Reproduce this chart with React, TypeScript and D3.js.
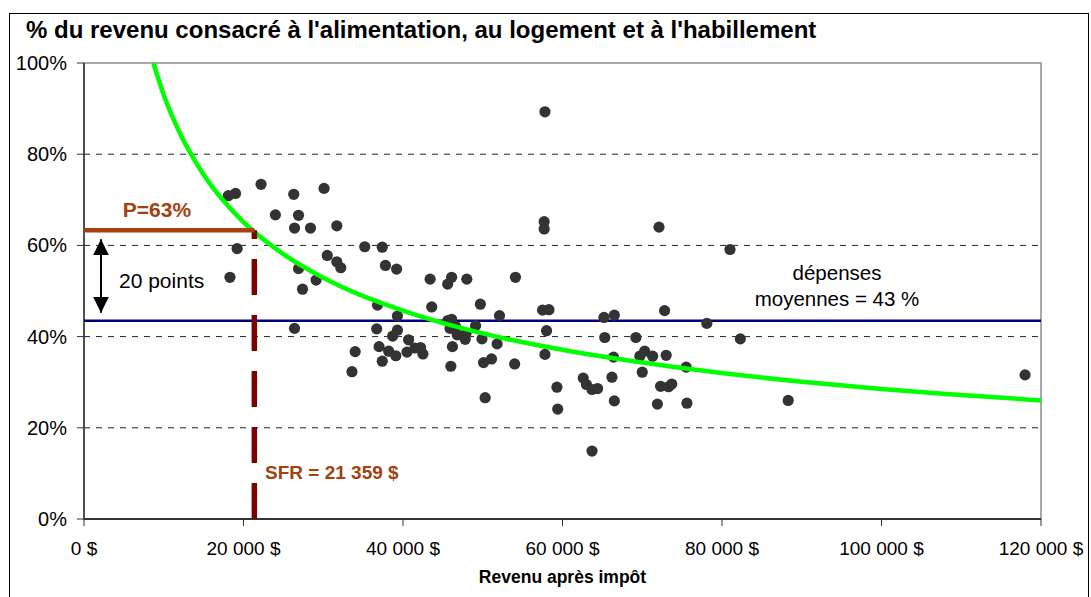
import React from "react";
import * as d3 from "d3";

// Données (revenu après impôt en $, part en %)
const revenus = [
  18100, 19000, 22200, 26300, 30100, 24000, 26900, 26400, 28400, 31700,
  19200, 18300, 35200, 37400, 30500, 31700, 32200, 26900, 37800, 39200,
  29100, 27400, 43400, 45600, 46100, 48000, 54100, 36800, 43600, 49700,
  39300, 52100, 57700, 57700, 57800, 57500, 58300, 58000, 57800, 59300,
  59400, 36700, 39300, 38700, 37000, 38200, 39100, 40700, 40500, 42200,
  41500, 42500, 34000, 33600, 37400, 45600, 46100, 45900, 46600, 46800,
  47900, 47800, 49100, 49900, 51800, 46200, 46000, 50100, 51100, 54000,
  50300, 65200, 66500, 72800, 78100, 65300, 69200, 82300, 66400, 69700,
  70300, 71300, 73000, 70000, 75500, 66200, 62600, 63000, 63700, 64400,
  66500, 72300, 73300, 73700, 71900, 75600, 88300, 63700, 72100, 81000,
  118000, 26400,
];
const parts = [
  70.9, 71.4, 73.4, 71.2, 72.5, 66.7, 66.6, 63.8, 63.8, 64.3,
  59.3, 53.0, 59.7, 59.6, 57.8, 56.4, 55.1, 54.9, 55.6, 54.8,
  52.4, 50.4, 52.6, 51.5, 53.0, 52.6, 53.0, 46.9, 46.5, 47.1,
  44.5, 44.6, 65.2, 63.6, 89.3, 45.8, 45.9, 41.3, 36.1, 28.9,
  24.1, 41.7, 41.4, 40.1, 37.8, 36.8, 35.8, 39.3, 36.6, 37.6,
  37.5, 36.2, 36.7, 32.3, 34.6, 43.5, 43.8, 41.8, 42.2, 40.4,
  40.7, 39.4, 42.4, 39.5, 38.4, 37.8, 33.5, 34.3, 35.1, 34.0,
  26.6, 44.2, 44.7, 45.7, 42.9, 39.8, 39.8, 39.5, 35.5, 35.7,
  36.8, 35.7, 35.9, 32.2, 33.3, 31.1, 30.9, 29.5, 28.4, 28.6,
  25.9, 29.1, 29.0, 29.6, 25.2, 25.4, 26.0, 14.9, 64.0, 59.1,
  31.6, 41.8,
];

// courbe de tendance (points lus)
const courbeRevenus = [8700, 10000, 12000, 15000, 20000, 25000, 30000, 40000, 50000, 60000, 70000, 80000, 90000, 100000, 110000, 120000];
const courbeParts = [100, 93, 84.7, 75.5, 65.1, 58.1, 52.9, 45.7, 40.7, 37.1, 34.3, 32.0, 30.1, 28.5, 27.2, 26.0];

const xTicks = [0, 20000, 40000, 60000, 80000, 100000, 120000];
const yTicks = [0, 20, 40, 60, 80, 100];
const yGrid = [20, 40, 60, 80];

const moyenne = 43.5;
const seuil = 63.3;
const sfr = 21359;

const titre = "% du revenu consacré à l'alimentation, au logement et à l'habillement";

const W = 1091;
const H = 597;
const margin = { left: 84, right: 50, top: 63, bottom: 78 };
const font = "'Liberation Sans', Arial, sans-serif";

const fmtMoney = (v: number) => (v === 0 ? "0 $" : `${d3.format(",")(v).replace(/,/g, " ")} $`);

export default function App() {
  const x = d3.scaleLinear().domain([0, 120000]).range([margin.left, W - margin.right]);
  const y = d3.scaleLinear().domain([0, 100]).range([H - margin.bottom, margin.top]);

  const line = d3
    .line<number>()
    .x((_, i) => x(courbeRevenus[i]))
    .y((d) => y(d))
    .curve(d3.curveMonotoneX);

  const x0 = x.range()[0];
  const x1 = x.range()[1];
  const yb = y(0);
  const yt = y(100);

  return (
    <svg width={W} height={H} style={{ position: "absolute", left: 0, top: 0 }} fontFamily={font}>
      <defs>
        <marker id="fl" viewBox="0 0 10 10" refX="10" refY="5" markerWidth="16" markerHeight="16" markerUnits="userSpaceOnUse" orient="auto-start-reverse">
          <path d="M0,0 L10,5 L0,10 z" fill="#000" />
        </marker>
      </defs>
      <rect x={0} y={0} width={W} height={H} fill="#fff" />
      <rect x={9.5} y={13.5} width={1079} height={600} fill="none" stroke="#000" />

      <text x={26} y={38} fontSize={24} fontWeight="bold">{titre}</text>

      {/* cadre de la zone de tracé */}
      <rect x={x0} y={yt} width={x1 - x0} height={yb - yt} fill="none" stroke="#8c8c8c" strokeWidth={1.5} />

      {yGrid.map((t) => (
        <line key={t} x1={x0} x2={x1} y1={y(t)} y2={y(t)} stroke="#222" strokeDasharray="6,6" strokeWidth={1} />
      ))}

      {/* axes */}
      <line x1={x0} x2={x0} y1={yt} y2={yb} stroke="#333" strokeWidth={1.5} />
      <line x1={x0} x2={x1} y1={yb} y2={yb} stroke="#333" strokeWidth={2} />
      {yTicks.map((t) => (
        <g key={t}>
          <line x1={x0 - 7} x2={x0} y1={y(t)} y2={y(t)} stroke="#333" />
          <text x={67} y={y(t)} dy="0.35em" textAnchor="end" fontSize={20}>{t}%</text>
        </g>
      ))}
      {xTicks.map((t) => (
        <g key={t}>
          <line x1={x(t)} x2={x(t)} y1={yb} y2={yb + 7} stroke="#333" />
          <text x={x(t)} y={555} textAnchor="middle" fontSize={19}>{fmtMoney(t)}</text>
        </g>
      ))}
      <text x={(x0 + x1) / 2} y={583} textAnchor="middle" fontSize={17.5} fontWeight="bold">Revenu après impôt</text>

      {/* dépenses moyennes */}
      <line x1={x0} x2={x1} y1={y(moyenne)} y2={y(moyenne)} stroke="#000080" strokeWidth={2.5} />
      <text x={837} y={280} textAnchor="middle" fontSize={20.5}>dépenses</text>
      <text x={837} y={306} textAnchor="middle" fontSize={20.5}>moyennes = 43 %</text>

      {/* points */}
      {revenus.map((r, i) => (
        <circle key={i} cx={x(r)} cy={y(parts[i])} r={5.6} fill="#333" />
      ))}

      {/* courbe */}
      <path d={line(courbeParts) ?? ""} fill="none" stroke="#00ff00" strokeWidth={4.5} />

      {/* seuil de faible revenu */}
      <line x1={x(sfr)} x2={x(sfr)} y1={yb} y2={y(seuil)} stroke="#800000" strokeWidth={5.5} strokeDasharray="36,20" />
      <line x1={x0} x2={x(sfr)} y1={y(seuil)} y2={y(seuil)} stroke="#a3420f" strokeWidth={4.5} />
      <text x={157} y={217} textAnchor="middle" fontSize={21} fontWeight="bold" fill="#a3420f">P=63%</text>
      <text x={265} y={479} fontSize={19} fontWeight="bold" fill="#a3420f">SFR = 21 359 $</text>

      {/* écart de 20 points */}
      <line x1={101} x2={101} y1={y(seuil) + 9} y2={y(moyenne) - 8} stroke="#000" strokeWidth={2} markerStart="url(#fl)" markerEnd="url(#fl)" />
      <text x={119} y={288} fontSize={21}>20 points</text>
    </svg>
  );
}
